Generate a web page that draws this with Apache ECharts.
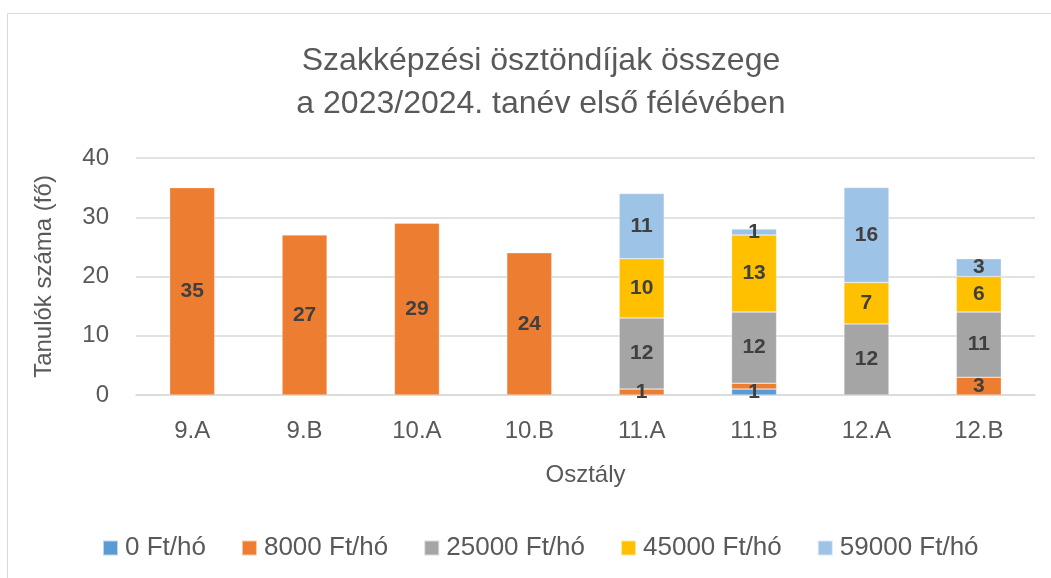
<!DOCTYPE html>
<html>
<head>
<meta charset="utf-8">
<script src="https://cdn.jsdelivr.net/npm/echarts@6/dist/echarts.min.js"></script>
<style>
	html, body { margin: 0; padding: 0; background: #fff; }
	#chart { width: 1051px; height: 578px; }
</style>
</head>
<body>
<div id="chart"></div>
<script>
	// osztályok
	var categories = ['9.A', '9.B', '10.A', '10.B', '11.A', '11.B', '12.A', '12.B'];
	// tanulók száma ösztöndíj szerint (null = nincs)
	var ft0 = [null, null, null, null, null, 1, null, null];
	var ft8000 = [35, 27, 29, 24, 1, 1, null, 3];
	var ft25000 = [null, null, null, null, 12, 12, 12, 11];
	var ft45000 = [null, null, null, null, 10, 13, 7, 6];
	var ft59000 = [null, null, null, null, 11, 1, 16, 3];
	var seriesNames = ['0 Ft/hó', '8000 Ft/hó', '25000 Ft/hó', '45000 Ft/hó', '59000 Ft/hó'];
	var colors = ['#5B9BD5', '#ED7D31', '#A5A5A5', '#FFC000', '#9DC3E6'];

	var font = 'Liberation Sans';
	var values = [ft0, ft8000, ft25000, ft45000, ft59000];

	var series = [];
	for (let i = 0; i < seriesNames.length; i++) {
		series.push({
			name: seriesNames[i],
			type: 'bar',
			stack: 'total',
			barWidth: '40%',
			itemStyle: { color: colors[i], borderColor: 'rgba(255,255,255,0.6)', borderWidth: 0.5 },
			label: {
				show: true,
				position: 'inside',
				fontFamily: font,
				fontWeight: 'bold',
				fontSize: 21,
				color: '#404040'
			},
			labelLayout: { hideOverlap: true },
			data: values[i]
		});
	}

	var option = {
		animation: false,
		color: colors,
		graphic: [{
			type: 'rect',
			shape: { x: 7.5, y: 13.5, width: 1100, height: 600 },
			style: { fill: 'none', stroke: '#d9d9d9', lineWidth: 1 }
		}],
		title: {
			text: 'Szakképzési ösztöndíjak összege\na 2023/2024. tanév első félévében',
			left: 536,
			textAlign: 'center',
			top: 35,
			textStyle: {
				fontFamily: font,
				fontWeight: 'normal',
				fontSize: 32,
				lineHeight: 43,
				color: '#595959'
			}
		},
		legend: {
			top: 530,
			left: 97,
			icon: 'rect',
			itemWidth: 15,
			itemHeight: 15,
			itemGap: 35,
			textStyle: { fontFamily: font, fontSize: 26, color: '#595959', padding: [0, 0, 0, 2] },
			data: seriesNames
		},
		grid: { left: 136, right: 16, top: 158, bottom: 183 },
		xAxis: {
			type: 'category',
			data: categories,
			name: 'Osztály',
			nameLocation: 'middle',
			nameGap: 68,
			nameTextStyle: { fontFamily: font, fontSize: 24, color: '#595959' },
			axisTick: { show: false },
			axisLine: { lineStyle: { color: '#d9d9d9', width: 1.5 } },
			axisLabel: { fontFamily: font, fontSize: 24, color: '#595959', margin: 24 }
		},
		yAxis: {
			type: 'value',
			min: 0,
			max: 40,
			interval: 10,
			name: 'Tanulók száma (fő)',
			nameLocation: 'middle',
			nameGap: 80,
			nameTextStyle: { fontFamily: font, fontSize: 24, color: '#595959' },
			axisLabel: { fontFamily: font, fontSize: 24, color: '#595959', margin: 27 },
			splitLine: { lineStyle: { color: '#d9d9d9', width: 1.5 } }
		},
		series: series
	};

	var myChart = echarts.init(document.getElementById('chart'));
	myChart.setOption(option);
</script>
</body>
</html>
